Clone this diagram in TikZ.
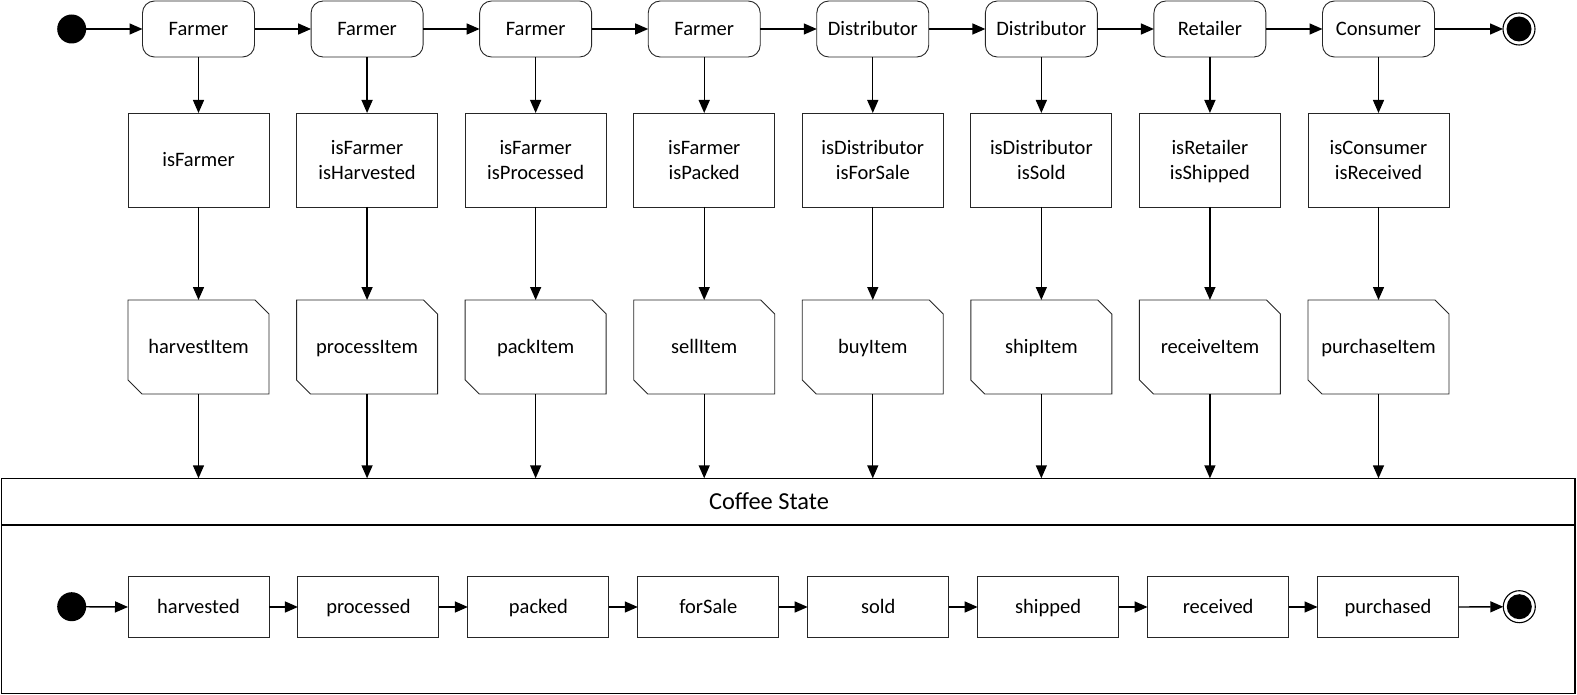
\documentclass[tikz,border=0pt]{standalone}
\usepackage{fontspec}
\setmainfont{Carlito}
\usetikzlibrary{arrows.meta}
\newcommand\lblstrut{\rule[-4.6pt]{0pt}{22.6pt}}
\begin{document}
\begin{tikzpicture}[x=1pt,y=-1pt,
  font=\fontsize{20.5}{25}\selectfont,
  every node/.style={inner sep=0pt, outer sep=0pt},
  lbl/.style={execute at begin node=\lblstrut, execute at end node=\lblstrut},
  actor/.style={lbl, draw=black!85, rounded corners=12pt, minimum width=112pt, minimum height=56pt, line width=0.9pt, align=center},
  guard/.style={draw=black!85, minimum width=141pt, minimum height=94pt, line width=0.9pt},
  guardtext/.style={lbl, align=center},
  actbox/.style={lbl, minimum width=141pt, minimum height=94pt, align=center},
  actline/.style={draw=black!85, line width=0.9pt},
  stbox/.style={lbl, draw=black!85, minimum width=141pt, minimum height=61pt, line width=0.9pt},
  arr/.style={-{Triangle[length=13pt,width=11pt]}, line width=1.4pt},
  initst/.style={circle, fill=black, minimum size=29pt},
  finst/.style={circle, draw=black, line width=1.1pt, minimum size=32pt},
  frame/.style={draw=black, line width=1.3pt}]
\useasboundingbox (0,0) rectangle (1577,695);

% top row
\node[initst] (i1) at (71.7,29) {};
\node[finst] (f1) at (1519,29) {};
\fill (f1.center) circle (12.5pt);

\foreach \i/\t/\g/\gs/\a in {
  0/Farmer/isFarmer/0/harvestItem,
  1/Farmer/{isFarmer\\isHarvested}/1.8/processItem,
  2/Farmer/{isFarmer\\isProcessed}/1.8/packItem,
  3/Farmer/{isFarmer\\isPacked}/1.8/sellItem,
  4/Distributor/{isDistributor\\isForSale}/1.8/buyItem,
  5/Distributor/{isDistributor\\isSold}/1.8/shipItem,
  6/Retailer/{isRetailer\\isShipped}/1.8/receiveItem,
  7/Consumer/{isConsumer\\isReceived}/1.8/purchaseItem}{
  \pgfmathsetmacro{\cx}{198.5+\i*168.57}
  \node[actor] (t\i) at (\cx,29) {\t};
  \node[guard] (g\i) at (\cx,160) {};
  \node[guardtext] (gt\i) at ([yshift=-\gs pt]g\i.center) {\g};
  \node[actbox] (a\i) at (\cx,347) {\a};
  \draw[actline] (a\i.north west) -- ([xshift=-14pt]a\i.north east) -- ([yshift=-14pt]a\i.north east)
     -- (a\i.south east) -- ([xshift=14pt]a\i.south west) -- ([yshift=14pt]a\i.south west) -- cycle;
}

% coffee state frame
\node[frame, anchor=north west, minimum width=1573.3pt, minimum height=215pt] (cs) at (1.7,478.3) {};
\node[frame, anchor=north west, minimum width=1573.3pt, minimum height=46.7pt] (csh) at (1.7,478.3) {};
\node[font=\fontsize{24.4}{28}\selectfont, anchor=base] (cst) at (769,509.5) {Coffee State};

% bottom row
\node[initst] (i2) at (71.7,606.7) {};
\node[finst] (f2) at (1519.3,606.7) {};
\fill (f2.center) circle (12.5pt);
\foreach \i/\s in {0/harvested,1/processed,2/packed,3/forSale,4/sold,5/shipped,6/received,7/purchased}{
  \pgfmathsetmacro{\bx}{198.5+\i*169.93}
  \node[stbox] (s\i) at (\bx,607) {\s};
}

% connectors
\draw[arr] (i1) -- (t0.west);
\draw[arr] (t7.east) -- (f1);
\draw[arr] (i2) -- (s0.west);
\draw[arr] (s7.east) -- (f2);
\foreach \i [evaluate=\i as \j using int(\i+1)] in {0,...,6}{
  \draw[arr] (t\i.east) -- (t\j.west);
  \draw[arr] (s\i.east) -- (s\j.west);
}
\foreach \i in {0,...,7}{
  \draw[arr] (t\i.south) -- (g\i.north);
  \draw[arr] (g\i.south) -- (a\i.north);
  \draw[arr] (a\i.south) -- (a\i.south |- csh.north);
}
\end{tikzpicture}
\end{document}
